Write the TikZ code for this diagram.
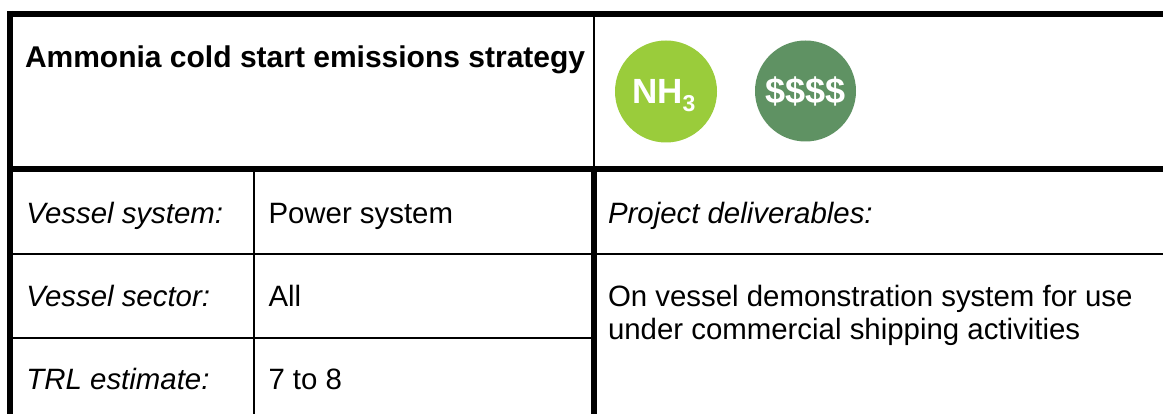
\documentclass[tikz,border=0pt]{standalone}
\usepackage{fontspec}
\setmainfont{Liberation Sans}
\definecolor{limec}{HTML}{9ACC3B}
\definecolor{forestc}{HTML}{5F9263}
\tikzset{
  x=1pt,y=-1pt,
  thickrule/.style={line width=6pt,black},
  thinrule/.style={line width=2pt,black},
  cell/.style={anchor=base west,inner sep=0pt,outer sep=0pt,font=\fontsize{29.4}{32}\selectfont,align=left},
  badge/.style={circle,inner sep=0pt,outer sep=0pt},
  badgetext/.style={anchor=base west,inner sep=0pt,outer sep=0pt,text=white,font=\bfseries\fontsize{35}{38}\selectfont},
}
\begin{document}
\begin{tikzpicture}
\path[use as bounding box,fill=white] (0,0) rectangle (1163,414);
\draw[thinrule] (594,14) -- (594,169);
\draw[thinrule] (254,169) -- (254,414);
\draw[thinrule] (10,254) -- (594,254);
\draw[thinrule] (594,254) -- (1163,254);
\draw[thinrule] (10,338) -- (594,338);
\draw[thickrule] (10,11) -- (10,414);
\draw[thickrule] (7,14) -- (1163,14);
\draw[thickrule] (7,169) -- (1163,169);
\draw[thickrule] (594,166) -- (594,414);
\node[cell,font=\bfseries\fontsize{30}{32}\selectfont] (title) at (25,67.5) {Ammonia cold start emissions strategy};
\node[badge,fill=limec,minimum size=102pt] (nh) at (666,91.5) {};
\node[badge,fill=forestc,minimum size=101pt] (cost) at (805.5,91) {};
\node[badgetext] (nhtext) at (632,104) {NH\raisebox{-7.5pt}{\fontsize{23}{25}\selectfont 3}};
\node[badgetext,font=\bfseries\fontsize{36}{38}\selectfont] (costtext) at (765,104) {\$\$\$\$};
\node[cell] (a1) at (26.5,224) {\itshape Vessel system:};
\node[cell] (b1) at (268.5,224) {Power system};
\node[cell] (a2) at (26.5,307) {\itshape Vessel sector:};
\node[cell] (b2) at (268.5,307) {All};
\node[cell] (a3) at (26.5,389.5) {\itshape TRL estimate:};
\node[cell] (b3) at (268.5,389.5) {7 to 8};
\node[cell] (c1) at (608,224) {\itshape Project deliverables:};
\node[cell] (c2a) at (608,307) {On vessel demonstration system for use};
\node[cell] (c2b) at (608,339.5) {under commercial shipping activities};
\end{tikzpicture}
\end{document}
